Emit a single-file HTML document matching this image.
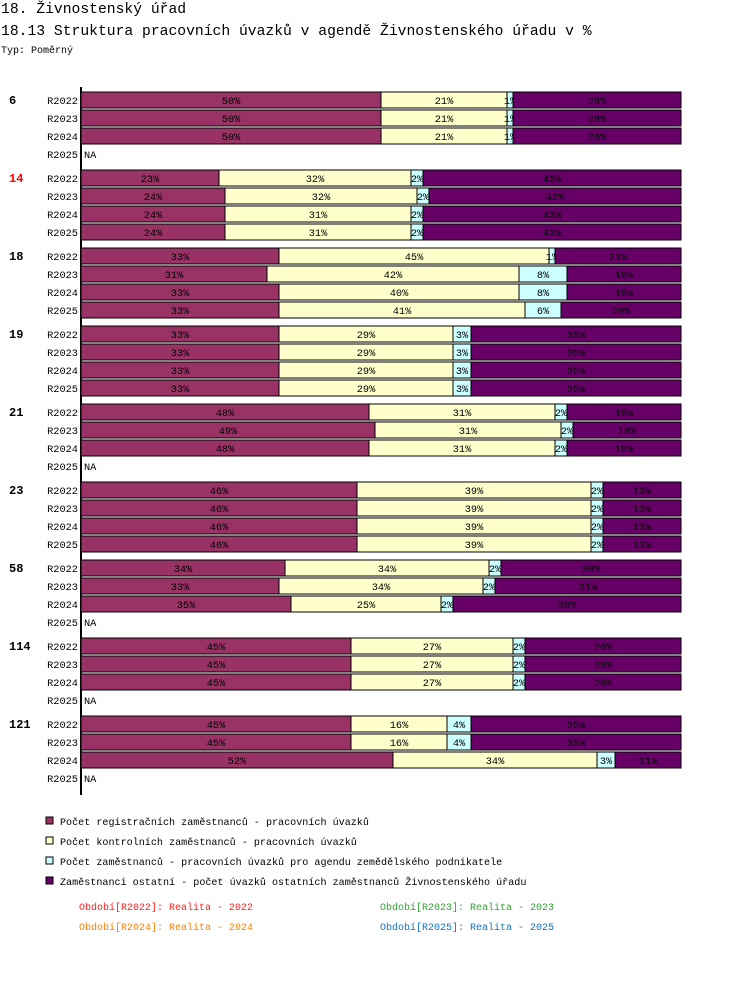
<!DOCTYPE html>
<html><head><meta charset="utf-8">
<style>
body{margin:0;background:#fff;width:750px;height:984px;overflow:hidden;font-family:"Liberation Mono",monospace}
svg text{font-family:"Liberation Mono",monospace}
</style></head>
<body>
<svg id="chart" width="750" height="984" xmlns="http://www.w3.org/2000/svg">
<text x="1" y="13" font-size="14.7">18. Živnostenský úřad</text>
<text x="1" y="35" font-size="14.7">18.13 Struktura pracovních úvazků v agendě Živnostenského úřadu v %</text>
<text x="1" y="53" font-size="10">Typ: Poměrný</text>
<line x1="81" y1="87" x2="81" y2="795" stroke="#000" stroke-width="2"/>
<g id="bars"></g>
<g id="legend"></g>
</svg>
<script>
const groups=["6","14","18","19","21","23","58","114","121"];
const periods=["R2022","R2023","R2024","R2025"];
const seriesNames=["Počet registračních zaměstnanců - pracovních úvazků","Počet kontrolních zaměstnanců - pracovních úvazků","Počet zaměstnanců - pracovních úvazků pro agendu zemědělského podnikatele","Zaměstnanci ostatní - počet úvazků ostatních zaměstnanců Živnostenského úřadu"];
const colors=["#993366","#ffffcc","#ccffff","#660066"];
const registr=[[50,50,50,null],[23,24,24,24],[33,31,33,33],[33,33,33,33],[48,49,48,null],[46,46,46,46],[34,33,35,null],[45,45,45,null],[45,45,52,null]];
const kontrol=[[21,21,21,null],[32,32,31,31],[45,42,40,41],[29,29,29,29],[31,31,31,null],[39,39,39,39],[34,34,25,null],[27,27,27,null],[16,16,34,null]];
const agenda=[[1,1,1,null],[2,2,2,2],[1,8,8,6],[3,3,3,3],[2,2,2,null],[2,2,2,2],[2,2,2,null],[2,2,2,null],[4,4,3,null]];
const ostatni=[[28,28,28,null],[43,42,43,43],[21,19,19,20],[35,35,35,35],[19,18,19,null],[13,13,13,13],[30,31,38,null],[26,26,26,null],[35,35,11,null]];
const periodNotes=["Období[R2022]: Realita - 2022","Období[R2023]: Realita - 2023","Období[R2024]: Realita - 2024","Období[R2025]: Realita - 2025"];
const periodColors=["#ff2020","#33a033","#ff8000","#1070c0"];

const NS="http://www.w3.org/2000/svg";
const X0=81,W=600;
function xs(frac){return X0+frac*W;}
function rowY(g,p){return 100+g*78+p*18;}
function mk(tag,attrs,parent){const e=document.createElementNS(NS,tag);for(const k in attrs)e.setAttribute(k,attrs[k]);parent.appendChild(e);return e;}
const bars=document.getElementById('bars');
const all=[registr,kontrol,agenda,ostatni];
groups.forEach((gname,g)=>{
  const gl=mk('text',{x:9,y:rowY(g,0)+4,'font-size':12,'font-weight':'bold',fill:gname==="14"?"#ff0000":"#000"},bars);
  gl.textContent=gname;
  
  
  periods.forEach((p,pi)=>{
    const cy=rowY(g,pi);
    const pl=mk('text',{x:78,y:cy+4,'font-size':10.3,'text-anchor':'end'},bars);
    pl.textContent=p;
    
    
    const vals=all.map(a=>a[g][pi]);
    if(vals[0]===null){
      const na=mk('text',{x:84,y:cy+4,'font-size':10.3},bars);
      na.textContent="NA";
      
      
      return;
    }
    const sum=vals.reduce((a,b)=>a+b,0);
    let acc=0;
    vals.forEach((v,si)=>{
      const x1=xs(acc/sum),x2=xs((acc+v)/sum);acc+=v;
      const r=mk('rect',{x:x1,y:cy-8,width:x2-x1,height:16,fill:colors[si],stroke:'#000','stroke-width':1},bars);
      
      
      const t=mk('text',{x:(x1+x2)/2,y:cy+4,'font-size':10.3,'text-anchor':'middle',fill:'#000'},bars);
      t.textContent=v+"%";
      
      
    });
  });
});
const lg=document.getElementById('legend');
seriesNames.forEach((n,i)=>{
  const y=821+i*20;
  const r=mk('rect',{x:46,y:y-4,width:7,height:7,fill:colors[i],stroke:'#000','stroke-width':1},lg);
  
  
  const t=mk('text',{x:60,y:y+4,'font-size':10.1},lg);
  t.textContent=n;
  
  
});
periodNotes.forEach((n,i)=>{
  const t=mk('text',{x:i%2?380:79,y:910+Math.floor(i/2)*20,'font-size':10,fill:periodColors[i]},lg);
  t.textContent=n;
  
  
});
</script>
</body></html>
